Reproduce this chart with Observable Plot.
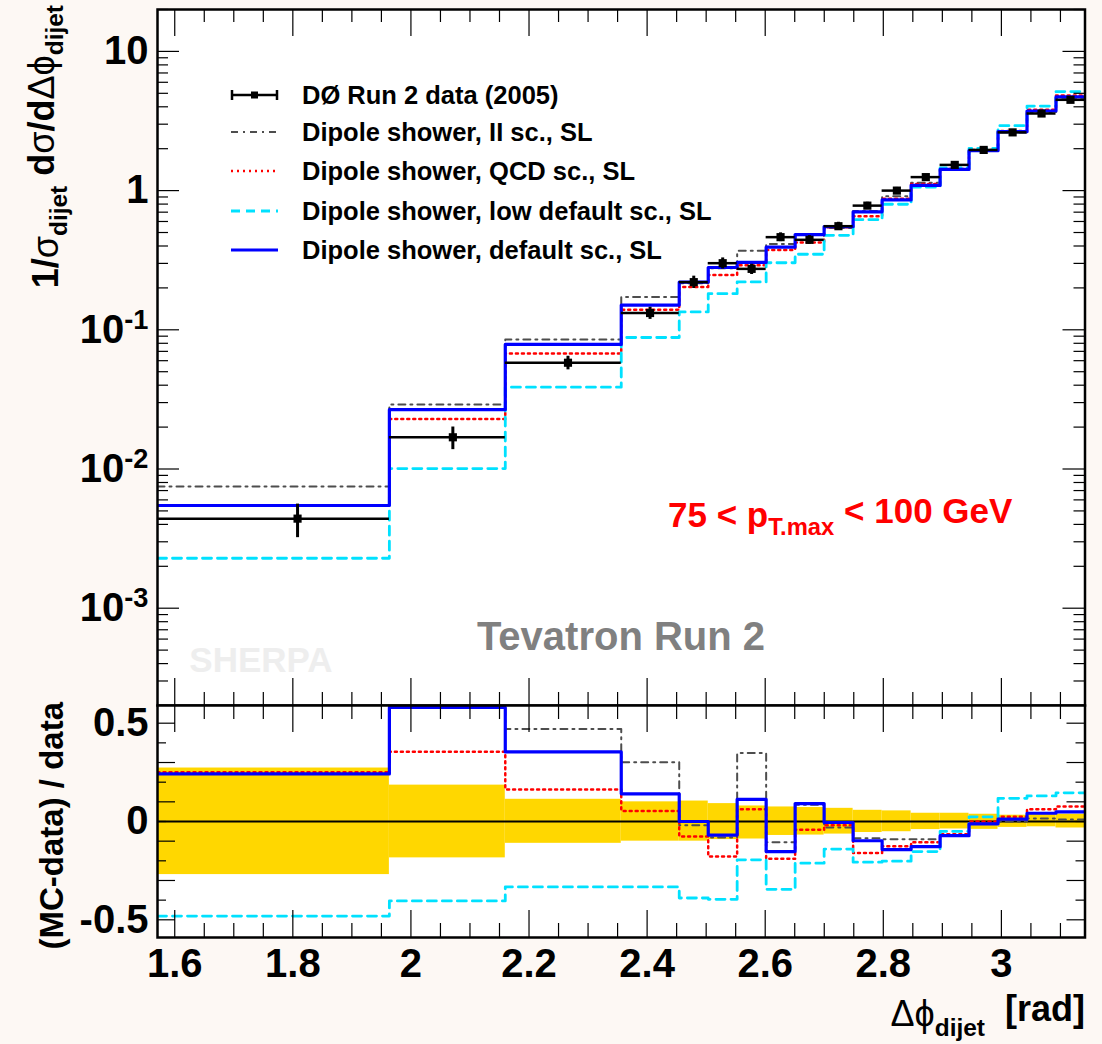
<!DOCTYPE html>
<html><head><meta charset="utf-8">
<script src="https://cdn.jsdelivr.net/npm/d3@7"></script>
<script src="https://cdn.jsdelivr.net/npm/@observablehq/plot@0.6"></script>
<style>
html,body{margin:0;padding:0;background:#fdf8f4;}
#wrap{position:relative;width:1102px;height:1044px;overflow:hidden;}
#wrap svg{position:absolute;left:0;}
</style></head><body><div id="wrap"></div>
<script>
// ---- data ----
const edges = [1.5708, 1.9635, 2.1598, 2.3562, 2.4544, 2.5035, 2.5525, 2.6016, 2.6507, 2.6998, 2.7489, 2.7980, 2.8471, 2.8962, 2.9452, 2.9943, 3.0434, 3.0925, 3.1416];
const dataX = [1.808, 2.071, 2.266, 2.405, 2.479, 2.528, 2.577, 2.626, 2.675, 2.724, 2.773, 2.823, 2.872, 2.921, 2.970, 3.019, 3.068, 3.117];
const dataY = [0.0044, 0.0169, 0.058, 0.132, 0.22, 0.301, 0.274, 0.463, 0.443, 0.555, 0.78, 1.0, 1.25, 1.53, 1.96, 2.62, 3.58, 4.49];
const errUp = [0.272, 0.185, 0.113, 0.100, 0.104, 0.091, 0.079, 0.074, 0.071, 0.067, 0.057, 0.054, 0.042, 0.042, 0.037, 0.032, 0.037, 0.037];
const errDn = [0.270, 0.185, 0.111, 0.100, 0.100, 0.092, 0.089, 0.071, 0.069, 0.064, 0.056, 0.052, 0.041, 0.038, 0.040, 0.030, 0.027, 0.033];

const mcII  = [0.00748, 0.0291, 0.0853, 0.1717, 0.2158, 0.2766, 0.3694, 0.4139, 0.4807, 0.5384, 0.7137, 0.910, 1.1375, 1.423, 1.940, 2.620, 3.634, 4.535];
const mcQCD = [0.0055, 0.0229, 0.0675, 0.1391, 0.2033, 0.2474, 0.291, 0.375, 0.4244, 0.5445, 0.655, 0.874, 1.1175, 1.4306, 1.96, 2.683, 3.802, 4.831];
const mcLow = [0.002284, 0.01007, 0.03869, 0.08804, 0.1344, 0.1818, 0.2206, 0.3033, 0.3491, 0.4773, 0.6185, 0.798, 1.0588, 1.4535, 2.007, 2.929, 4.045, 5.146];
const mcDef = [0.00547, 0.0267, 0.0785, 0.1506, 0.220, 0.2802, 0.305, 0.392, 0.4833, 0.552, 0.7036, 0.857, 1.090, 1.420, 1.936, 2.651, 3.730, 4.710];

const rII  = [0.70, 0.72, 0.47, 0.301, -0.019, -0.081, 0.348, -0.106, 0.085, -0.03, -0.085, -0.09, -0.09, -0.07, -0.01, 0.0, 0.015, 0.01];
const rQCD = [0.25, 0.355, 0.163, 0.054, -0.076, -0.178, 0.062, -0.19, -0.042, -0.019, -0.16, -0.126, -0.106, -0.065, 0.0, 0.024, 0.062, 0.076];
const rLow = [-0.481, -0.404, -0.333, -0.333, -0.389, -0.396, -0.195, -0.345, -0.212, -0.14, -0.207, -0.202, -0.153, -0.05, 0.024, 0.118, 0.13, 0.146];
const rDef = [0.242, 0.58, 0.354, 0.141, 0.0, -0.069, 0.113, -0.153, 0.091, -0.005, -0.098, -0.143, -0.128, -0.072, -0.012, 0.012, 0.042, 0.049];

const xTicks = [1.6, 1.8, 2, 2.2, 2.4, 2.6, 2.8, 3];
const xTickLabels = ["1.6", "1.8", "2", "2.2", "2.4", "2.6", "2.8", "3"];
const yTicksTop = [10, 1, 0.1, 0.01, 0.001];
const yTickLabelsTop = ["10", "1", "10^-1", "10^-2", "10^-3"];
const yTicksBot = [0.5, 0, -0.5];
const yTickLabelsBot = ["0.5", "0", "-0.5"];

const legendLabels = ["DØ Run 2 data (2005)", "Dipole shower, II sc., SL", "Dipole shower, QCD sc., SL", "Dipole shower, low default sc., SL", "Dipole shower, default sc., SL"];

// ---- build ----
const FONT = "'Liberation Sans', Arial, Helvetica, sans-serif";
const series = [
  {top: mcII,  ratio: rII,  stroke: "#4d4d4d", width: 2,   dash: "7,5,2,5"},
  {top: mcQCD, ratio: rQCD, stroke: "#ff0000", width: 2.5, dash: "2,4"},
  {top: mcLow, ratio: rLow, stroke: "#00e1ff", width: 2.8, dash: "9,6"},
  {top: mcDef, ratio: rDef, stroke: "#0000ff", width: 3.2, dash: null}
];
const steps = vals => edges.map((e, i) => ({x: e, y: vals[Math.min(i, vals.length - 1)]}));
const rows = dataY.map((y, i) => ({x: dataX[i], y, lo: edges[i], hi: edges[i + 1], ylo: y * (1 - errDn[i]), yhi: y * (1 + errUp[i]), up: errUp[i], dn: -errDn[i]}));

const xMinor = d3.range(32, 63).map(k => +(k * 0.05).toFixed(2)).filter(v => !xTicks.includes(v));
const yMinorTop = [];
for (let d = -4; d <= 1; d++) for (let m = 2; m <= 9; m++) { const v = m * Math.pow(10, d); if (v >= 2e-4 && v <= 20) yMinorTop.push(v); }
const yLongBot = [0.5, 0.3, 0.1, -0.1, -0.3, -0.5];
const yShortBot = [0.4, 0.2, 0, -0.2, -0.4];

const W = 1102, ML = 157, MR = 17.5;
const frameW = W - ML - MR;
const xDomain = [edges[0], edges[edges.length - 1]];
const tk = {stroke: "black", strokeWidth: 1.2};

function ticksX(FH, major, minor) {
  return [
    Plot.ruleX(xTicks, {...tk, insetBottom: FH - major}),
    Plot.ruleX(xTicks, {...tk, insetTop: FH - major}),
    Plot.ruleX(xMinor, {...tk, insetBottom: FH - minor}),
    Plot.ruleX(xMinor, {...tk, insetTop: FH - minor})
  ];
}
function ticksY(vals, len) {
  return [
    Plot.ruleY(vals, {...tk, insetRight: frameW - len}),
    Plot.ruleY(vals, {...tk, insetLeft: frameW - len})
  ];
}

const wrap = document.getElementById("wrap");

// top panel
const topH = 705, topMT = 9, topMB = 0, topFH = topH - topMT - topMB;
const topPlot = Plot.plot({
  width: W, height: topH, marginTop: topMT, marginBottom: topMB, marginLeft: ML, marginRight: MR,
  style: {background: "transparent", overflow: "visible", fontFamily: FONT},
  x: {domain: xDomain, axis: null},
  y: {type: "log", domain: [2e-4, 20], axis: null},
  marks: [
    Plot.frame({fill: "white"}),
    ...series.map(s => Plot.line(steps(s.top), {x: "x", y: "y", curve: "step-after", stroke: s.stroke, strokeWidth: s.width, strokeDasharray: s.dash, clip: true})),
    Plot.ruleY(rows, {y: "y", x1: "lo", x2: "hi", stroke: "black", strokeWidth: 2.5}),
    Plot.ruleX(rows, {x: "x", y1: "ylo", y2: "yhi", stroke: "black", strokeWidth: 3}),
    Plot.dot(rows, {x: "x", y: "y", symbol: "square", r: 4.6, fill: "black"}),
    ...ticksX(topFH, 27, 13),
    ...ticksY(yTicksTop, 22),
    ...ticksY(yMinorTop, 11),
    Plot.axisY(yTicksTop, {anchor: "left", tickSize: 0, tickPadding: 9, fontSize: 40, fontWeight: "bold", fill: "black", label: null,
      tickFormat: d => yTickLabelsTop[yTicksTop.indexOf(d)]}),
    Plot.frame({stroke: "black", strokeWidth: 2.5})
  ]
});
topPlot.style.top = "0px";
wrap.appendChild(topPlot);
d3.select(topPlot).selectAll("text").each(function () {
  const t = this.textContent;
  if (t.includes("^")) {
    const [base, exp] = t.split("^");
    const s = d3.select(this); s.text(null);
    s.append("tspan").text(base);
    s.append("tspan").attr("dy", "-0.5em").style("font-size", "68%").text(exp);
  }
});

// bottom panel
const botTop = 700, botH = 344, botMT = 5, botMB = 107, botFH = botH - botMT - botMB;
const botPlot = Plot.plot({
  width: W, height: botH, marginTop: botMT, marginBottom: botMB, marginLeft: ML, marginRight: MR,
  style: {background: "transparent", overflow: "visible", fontFamily: FONT},
  x: {domain: xDomain, axis: null},
  y: {domain: [-0.59, 0.59], axis: null},
  marks: [
    Plot.frame({fill: "white"}),
    Plot.rect(rows, {x1: "lo", x2: "hi", y1: "dn", y2: "up", fill: "#ffd700"}),
    Plot.ruleY([0], {stroke: "black", strokeWidth: 2}),
    ...series.map(s => Plot.line(steps(s.ratio), {x: "x", y: "y", curve: "step-after", stroke: s.stroke, strokeWidth: s.width, strokeDasharray: s.dash, clip: true})),
    ...ticksX(botFH, 27, 14),
    ...ticksY(yLongBot, 18),
    ...ticksY(yShortBot, 9),
    Plot.axisY(yTicksBot, {anchor: "left", tickSize: 0, tickPadding: 9, fontSize: 40, fontWeight: "bold", fill: "black", label: null,
      tickFormat: d => yTickLabelsBot[yTicksBot.indexOf(d)]}),
    Plot.axisX(xTicks, {anchor: "bottom", tickSize: 0, tickPadding: 11, fontSize: 40, fontWeight: "bold", fill: "black", label: null,
      tickFormat: d => xTickLabels[xTicks.indexOf(d)]}),
    Plot.frame({stroke: "black", strokeWidth: 2.5})
  ]
});
botPlot.style.top = botTop + "px";
wrap.appendChild(botPlot);

// overlay: titles, legend, annotations
const ov = d3.select(wrap).append("svg").attr("width", W).attr("height", 1044).style("top", "0px")
  .style("pointer-events", "none").attr("font-family", FONT).attr("font-weight", "bold");

function sub(textSel, parts) {
  parts.forEach(p => {
    const ts = textSel.append("tspan").text(p.t);
    if (p.sub) ts.attr("dy", p.dy).style("font-size", p.size || "68%");
    else if (p.dy) ts.attr("dy", p.dy);
    if (p.dx) ts.attr("dx", p.dx);
    if (p.thin) ts.attr("font-weight", "normal");
  });
}
// top y title
const t1 = ov.append("text").attr("transform", "translate(58,5) rotate(-90)").attr("text-anchor", "end").attr("font-size", 36).attr("fill", "black");
sub(t1, [{t: "1/"}, {t: "σ", thin: true}, {t: "dijet", sub: true, dy: "0.35em"}, {t: " d", dy: "-0.35em"}, {t: "σ", thin: true}, {t: "/d"}, {t: "Δϕ", thin: true}, {t: "dijet", sub: true, dy: "0.35em"}]);
// bottom y title
ov.append("text").attr("transform", "translate(63,702) rotate(-90)").attr("text-anchor", "end").attr("font-size", 33).attr("fill", "black").text("(MC-data) / data");
// x title
const t3 = ov.append("text").attr("x", 1085).attr("y", 1026).attr("text-anchor", "end").attr("font-size", 36).attr("fill", "black");
sub(t3, [{t: "Δϕ", thin: true}, {t: "dijet", sub: true, dy: "0.4em"}, {t: "[rad]", dy: "-0.4em", dx: 20}]);

// annotations
const t4 = ov.append("text").attr("x", 668).attr("y", 527).attr("font-size", 35).attr("fill", "#ff0000");
sub(t4, [{t: "75 < p"}, {t: "T.max", sub: true, dy: "0.35em"}, {t: " < 100 GeV", dy: "-0.35em"}]);
ov.append("text").attr("x", 621).attr("y", 650).attr("text-anchor", "middle").attr("font-size", 40).attr("fill", "#808080").text("Tevatron Run 2");
ov.append("text").attr("x", 261).attr("y", 672).attr("text-anchor", "middle").attr("font-size", 35).attr("fill", "#eeeeee").text("SHERPA");

// legend
const rowsY = [95, 132, 171, 211, 250];
const lg = ov.append("g");
legendLabels.forEach((lab, i) => {
  lg.append("text").attr("x", 302).attr("y", rowsY[i] + 9).attr("font-size", 25.5).attr("fill", "black").text(lab);
});
// data symbol
lg.append("line").attr("x1", 231).attr("x2", 278).attr("y1", rowsY[0]).attr("y2", rowsY[0]).attr("stroke", "black").attr("stroke-width", 2.5);
lg.append("line").attr("x1", 232).attr("x2", 232).attr("y1", rowsY[0] - 5).attr("y2", rowsY[0] + 5).attr("stroke", "black").attr("stroke-width", 2.5);
lg.append("line").attr("x1", 277).attr("x2", 277).attr("y1", rowsY[0] - 5).attr("y2", rowsY[0] + 5).attr("stroke", "black").attr("stroke-width", 2.5);
lg.append("rect").attr("x", 251).attr("y", rowsY[0] - 3.5).attr("width", 7).attr("height", 7).attr("fill", "black");
series.forEach((s, i) => {
  lg.append("line").attr("x1", 231).attr("x2", 278).attr("y1", rowsY[i + 1]).attr("y2", rowsY[i + 1])
    .attr("stroke", s.stroke).attr("stroke-width", s.width).attr("stroke-dasharray", s.dash);
});
</script></body></html>
